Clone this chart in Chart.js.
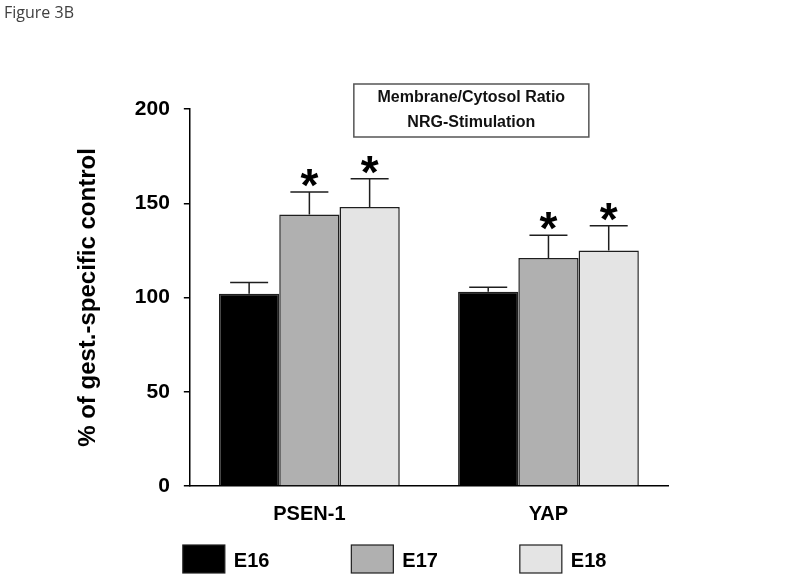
<!DOCTYPE html>
<html>
<head>
<meta charset="utf-8">
<script src="https://cdn.jsdelivr.net/npm/chart.js@4"></script>
<style>
  html, body { margin:0; padding:0; background:#fff; }
  #wrap { width:800px; height:579px; position:relative; }
</style>
</head>
<body>
<div id="wrap"><canvas id="fig"></canvas></div>
<script>
// Figure 3B - membrane/cytosol ratio after NRG stimulation
const categories = ['PSEN-1', 'YAP'];
const seriesNames = ['E16', 'E17', 'E18'];
const e16 = [102, 103];
const e17 = [144, 121];
const e18 = [148, 125];
// upper error (SEM) for each bar
const e16Err = [6, 2.5];
const e17Err = [12, 12];
const e18Err = [15, 13];
// significance stars
const e16Sig = [false, false];
const e17Sig = [true, true];
const e18Sig = [true, true];
const yTicks = [0, 50, 100, 150, 200];
const boxTitle = ['Membrane/Cytosol Ratio', 'NRG-Stimulation'];
const figLabel = 'Figure 3B';

const fills = ['#000000', '#b0b0b0', '#e4e4e4'];
const edge = '#1e1e1e';
const fam = '"Liberation Sans", Arial, sans-serif';

const values = [e16, e17, e18];
const errs = [e16Err, e17Err, e18Err];
const sigs = [e16Sig, e17Sig, e18Sig];

// error bars, stars, box title, legend, figure label
const extras = {
  id: 'extras',
  afterDatasetsDraw(chart){
    const ctx = chart.ctx;
    const y = chart.scales.y;
    ctx.save();
    ctx.strokeStyle = edge;
    ctx.lineWidth = 1.5;
    values.forEach((vals, di) => {
      const meta = chart.getDatasetMeta(di);
      meta.data.forEach((bar, i) => {
        const top = y.getPixelForValue(vals[i] + errs[di][i]);
        ctx.beginPath();
        ctx.moveTo(bar.x, bar.y);
        ctx.lineTo(bar.x, top);
        ctx.moveTo(bar.x - 19, top);
        ctx.lineTo(bar.x + 19, top);
        ctx.stroke();
        if (sigs[di][i]) {
          ctx.font = 'bold 46px ' + fam;
          ctx.fillStyle = '#000';
          ctx.textAlign = 'center';
          ctx.textBaseline = 'alphabetic';
          const m = ctx.measureText('*');
          ctx.fillText('*', bar.x, top - 5 - m.actualBoundingBoxDescent);
        }
      });
    });
    ctx.restore();
  },
  afterDraw(chart){
    const ctx = chart.ctx;
    const a = chart.chartArea;
    ctx.save();
    // figure label
    ctx.font = '16px "Open Sans", sans-serif';
    ctx.fillStyle = '#404040';
    ctx.textAlign = 'left';
    ctx.textBaseline = 'alphabetic';
    ctx.fillText(figLabel, 4, 18);
    // boxed title
    const bx = a.left + 164, by = 84, bw = 235, bh = 53;
    ctx.strokeStyle = '#555';
    ctx.lineWidth = 1.5;
    ctx.strokeRect(bx, by, bw, bh);
    ctx.font = 'bold 16px ' + fam;
    ctx.fillStyle = '#111';
    ctx.textAlign = 'center';
    ctx.textBaseline = 'middle';
    ctx.fillText(boxTitle[0], bx + bw / 2, by + 14);
    ctx.fillText(boxTitle[1], bx + bw / 2, by + 39);
    // legend
    ctx.font = 'bold 20px ' + fam;
    ctx.textAlign = 'left';
    seriesNames.forEach((name, i) => {
      const lx = a.left - 7 + i * 168.5;
      const ly = 545;
      ctx.fillStyle = fills[i];
      ctx.fillRect(lx, ly, 42, 28);
      ctx.strokeStyle = edge;
      ctx.lineWidth = 1.2;
      ctx.strokeRect(lx, ly, 42, 28);
      ctx.fillStyle = '#000';
      ctx.fillText(name, lx + 51, ly + 16);
    });
    ctx.restore();
  }
};

new Chart(document.getElementById('fig'), {
  type: 'bar',
  data: {
    labels: categories,
    datasets: seriesNames.map((name, i) => ({
      label: name,
      data: values[i],
      backgroundColor: fills[i],
      borderColor: edge,
      borderWidth: 1.5,
      categoryPercentage: 0.756,
      barPercentage: 1.0
    }))
  },
  options: {
    responsive: true,
    maintainAspectRatio: false,
    animation: false,
    layout: { padding: { left: 74, right: 132, top: 109, bottom: 37 } },
    plugins: {
      legend: { display: false },
      tooltip: { enabled: false }
    },
    scales: {
      x: {
        grid: { display: false, drawTicks: false },
        border: { display: true, color: '#000', width: 1.5 },
        ticks: { color: '#000', font: { family: fam, size: 20, weight: 'bold' }, padding: 16 }
      },
      y: {
        min: 0,
        max: 200,
        afterBuildTicks: axis => { axis.ticks = yTicks.map(v => ({ value: v })); },
        grid: { display: true, drawOnChartArea: false, drawTicks: true, tickLength: 6, color: '#000', lineWidth: 1.5 },
        border: { display: true, color: '#000', width: 1.5 },
        ticks: { color: '#000', font: { family: fam, size: 21, weight: 'bold' }, padding: 14 },
        title: {
          display: true,
          text: '% of gest.-specific control',
          color: '#000',
          font: { family: fam, size: 24, weight: 'bold' },
          padding: { top: 0, bottom: 18 }
        }
      }
    }
  },
  plugins: [extras]
});
</script>
</body>
</html>
